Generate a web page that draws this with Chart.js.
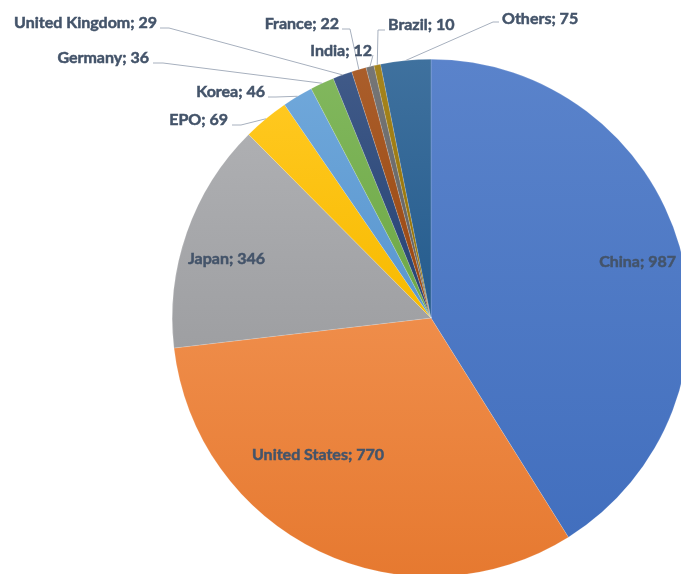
<!DOCTYPE html>
<html>
<head>
<meta charset="utf-8">
<title>Solicitudes por país</title>
<script src="https://cdn.jsdelivr.net/npm/chart.js@4.4.0/dist/chart.umd.min.js"></script>
<style>
    html, body { margin: 0; padding: 0; background: #fff; overflow: hidden; }
    #wrap { width: 700px; height: 600px; }
</style>
</head>
<body>
<div id="wrap"><canvas id="chartPaises" width="700" height="600"></canvas></div>
<script>
const paises = ['China', 'United States', 'Japan', 'EPO', 'Korea', 'Germany', 'United Kingdom', 'France', 'India', 'Brazil', 'Others'];
const valores = [987, 770, 346, 69, 46, 36, 29, 22, 12, 10, 75];
const colores = ['#4472C4', '#ED7D31', '#A3A4A7', '#FFC000', '#5B9BD5', '#70AD47', '#264478', '#9E480E', '#636363', '#997300', '#255E91'];

// Posición del texto de cada etiqueta; "linea" = [x inicio, y inicio, x del codo]
const etiquetas = [
    { x: 676, y: 262, align: 'right' },
    { x: 252, y: 455, align: 'left' },
    { x: 188, y: 259, align: 'left' },
    { x: 228, y: 120, align: 'right', linea: [232, 125, 241] },
    { x: 265, y: 92, align: 'right', linea: [268, 97, 276] },
    { x: 149, y: 58, align: 'right', linea: [153, 63, 163] },
    { x: 157, y: 23, align: 'right', linea: [160, 28, 169] },
    { x: 339, y: 24, align: 'right', linea: [342, 29, 350] },
    { x: 372, y: 51, align: 'right', linea: [373, 55, 373] },
    { x: 388, y: 25, align: 'left', linea: [385, 30, 378] },
    { x: 502, y: 19, align: 'left', linea: [499, 22, 493] }
];

function mezclar(hex, destino, t) {
    const n = parseInt(hex.slice(1), 16);
    const c = [(n >> 16) & 255, (n >> 8) & 255, n & 255].map(v => Math.round(v + (destino - v) * t));
    return `rgb(${c[0]},${c[1]},${c[2]})`;
}

// Degradado vertical por porción: más claro arriba, más oscuro abajo
function colorPorcion(ctx) {
    const i = ctx.dataIndex;
    const chart = ctx.chart;
    const area = chart.chartArea;
    if (!area) return colores[i];
    const cx = (area.left + area.right) / 2;
    const cy = (area.top + area.bottom) / 2;
    const r = Math.min(area.right - area.left, area.bottom - area.top) / 2;
    const total = valores.reduce((a, b) => a + b, 0);
    let a0 = -Math.PI / 2;
    for (let j = 0; j < i; j++) a0 += valores[j] / total * Math.PI * 2;
    const a1 = a0 + valores[i] / total * Math.PI * 2;
    let ymin = cy, ymax = cy;
    [a0, a1, -Math.PI / 2, Math.PI / 2, Math.PI * 1.5].forEach((a, k) => {
        if (k > 1 && (a < a0 || a > a1)) return;
        const y = cy + r * Math.sin(a);
        ymin = Math.min(ymin, y);
        ymax = Math.max(ymax, y);
    });
    const g = chart.ctx.createLinearGradient(0, ymin, 0, ymax);
    g.addColorStop(0, mezclar(colores[i], 255, 0.12));
    g.addColorStop(1, mezclar(colores[i], 0, 0.03));
    return g;
}

const pluginEtiquetas = {
    id: 'etiquetas',
    afterDatasetsDraw(chart) {
        const ctx = chart.ctx;
        const arcos = chart.getDatasetMeta(0).data;
        ctx.save();
        ctx.font = 'bold 16px Lato';
        ctx.textBaseline = 'middle';
        arcos.forEach((arco, i) => {
            const e = etiquetas[i];
            if (e.linea) {
                const p = arco.getProps(['x', 'y', 'startAngle', 'endAngle', 'outerRadius']);
                const m = (p.startAngle + p.endAngle) / 2;
                const fx = p.x + Math.cos(m) * p.outerRadius;
                const fy = p.y + Math.sin(m) * p.outerRadius;
                ctx.strokeStyle = '#A7B0BE';
                ctx.lineWidth = 1;
                ctx.beginPath();
                ctx.moveTo(e.linea[0], e.linea[1]);
                ctx.lineTo(e.linea[2], e.linea[1]);
                ctx.lineTo(fx, fy);
                ctx.stroke();
            }
            const texto = paises[i] + '; ' + valores[i];
            ctx.fillStyle = '#44546A';
            ctx.strokeStyle = '#44546A';
            ctx.lineWidth = 0.5;
            ctx.textAlign = e.align;
            ctx.fillText(texto, e.x, e.y);
            ctx.strokeText(texto, e.x, e.y);
        });
        ctx.restore();
    }
};

new Chart(document.getElementById('chartPaises'), {
    type: 'pie',
    data: {
        labels: paises,
        datasets: [{
            data: valores,
            backgroundColor: colorPorcion,
            borderColor: 'rgba(255,255,255,0.3)',
            borderWidth: 0.5
        }]
    },
    options: {
        responsive: false,
        animation: false,
        layout: { padding: { left: 172, top: 59, right: 10, bottom: 23 } },
        plugins: {
            legend: { display: false },
            tooltip: { enabled: false }
        }
    },
    plugins: [pluginEtiquetas]
});
</script>
</body>
</html>
